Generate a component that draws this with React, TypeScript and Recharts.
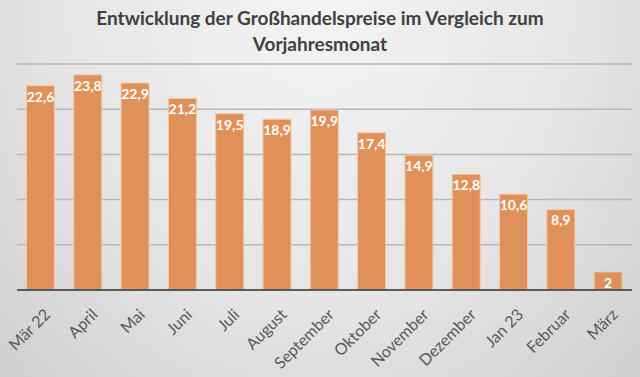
import { Bar, BarChart, CartesianGrid, LabelList, XAxis, YAxis } from "recharts"

const months = [
    "Mär 22", "April", "Mai", "Juni", "Juli", "August", "September",
    "Oktober", "November", "Dezember", "Jan 23", "Februar", "März",
]
const changes = [22.6, 23.8, 22.9, 21.2, 19.5, 18.9, 19.9, 17.4, 14.9, 12.8, 10.6, 8.9, 2]
const yTicks = [0, 5, 10, 15, 20, 25]

const data = months.map((month, i) => ({ month, value: changes[i] }))

const FONT = "Lato, 'Open Sans', sans-serif"

function MonthTick(props: any) {
    const { x, y, payload } = props
    return (
        <text
            x={x}
            y={y}
            dx={-5}
            dy={20}
            transform={`rotate(-45, ${x}, ${y})`}
            textAnchor="end"
            fill="#595959"
            fontSize={16}
            fontFamily={FONT}
        >
            {payload.value}
        </text>
    )
}

export default function App() {
    return (
        <div
            style={{
                position: "absolute",
                left: 0,
                top: 0,
                width: 640,
                height: 377,
                background: "radial-gradient(ellipse at 50% 0%, #f4f4f4 0%, #e6e6e6 55%, #cfcfcf 100%)",
                fontFamily: FONT,
            }}
        >
            <div
                style={{
                    position: "absolute",
                    left: 0,
                    top: 5,
                    width: 640,
                    textAlign: "center",
                    fontSize: 19,
                    fontWeight: 700,
                    lineHeight: "26px",
                    color: "#404040",
                }}
            >
                Entwicklung der Großhandelspreise im Vergleich zum
                <br />
                Vorjahresmonat
            </div>
            <BarChart
                width={640}
                height={377}
                data={data}
                margin={{ top: 64, right: 8, left: 17, bottom: 0 }}
                barCategoryGap="20%"
            >
                <CartesianGrid vertical={false} stroke="#b8b8b8" strokeWidth={1.5} />
                <YAxis hide domain={[0, 25]} ticks={yTicks} />
                <XAxis
                    dataKey="month"
                    interval={0}
                    tickLine={false}
                    axisLine={{ stroke: "#595959", strokeWidth: 2 }}
                    tick={<MonthTick />}
                    height={87}
                />
                <Bar dataKey="value" fill="#e0915a" stroke="#f3c9a8" strokeWidth={1} isAnimationActive={false}>
                    <LabelList
                        dataKey="value"
                        position="insideTop"
                        offset={6}
                        fill="#ffffff"
                        fontSize={14}
                        fontWeight={700}
                        fontFamily={FONT}
                        formatter={(v: any) => String(v).replace(".", ",")}
                    />
                </Bar>
            </BarChart>
        </div>
    )
}
